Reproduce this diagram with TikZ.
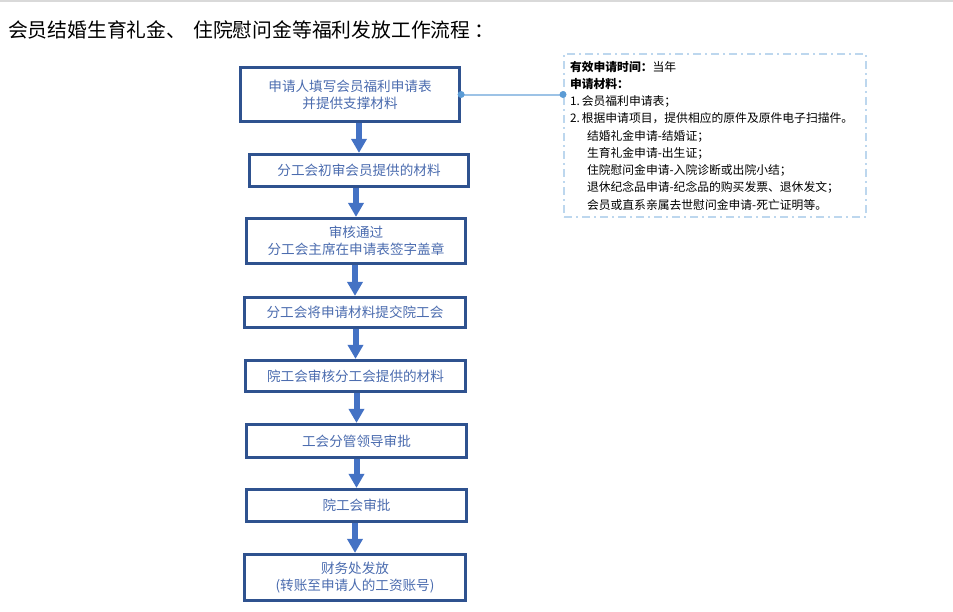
\documentclass[tikz,border=0pt]{standalone}
\usepackage{fontspec}
\setmainfont{Noto Sans CJK SC}
\usepackage{tikz}
\usetikzlibrary{arrows.meta,calc}
\definecolor{BoxBorder}{HTML}{2F528F}
\definecolor{BoxText}{HTML}{4A6BAE}
\definecolor{ArrowFill}{HTML}{4472C4}
\definecolor{NoteFrame}{HTML}{BDD7EE}
\definecolor{LinkLine}{HTML}{9DC3E6}
\definecolor{LinkDot}{HTML}{5B9BD5}
\definecolor{PageRule}{HTML}{D9D9D9}

\begin{document}
\begin{tikzpicture}[
  x=1pt,y=-1pt,
  line join=miter,
  flowbox/.style={draw=BoxBorder,line width=3.2pt,minimum width=219pt,
    inner sep=0pt,align=center,text=BoxText,
    font=\fontsize{13.6}{17}\selectfont},
  flowarrow/.style={draw=ArrowFill,line width=6pt,
    -{Triangle[width=15pt,length=14pt]}},
  notebox/.style={draw=NoteFrame,line width=2pt,
    dash pattern=on 8pt off 4pt on 2pt off 4pt,
    minimum width=302pt,minimum height=163pt,inner sep=0pt,
    text width=290pt,align=left,text=black,
    font=\fontsize{11.8}{17.25}\selectfont}
]
  \useasboundingbox (0,0) rectangle (953,611);
  \draw[PageRule,line width=1.5pt] (0,0.75)--(953,0.75);

  \node[anchor=west,inner sep=0pt,font=\fontsize{19.8}{23}\selectfont]
    (title) at (8,30)
    {会员结婚生育礼金、\hspace{7pt}住院慰问金等福利发放工作流程\hspace{4pt}：};

  \node[flowbox,minimum height=53.8pt] (applyform) at (350,94.5)
    {申请人填写会员福利申请表\\并提供支撑材料};
  \node[flowbox,minimum height=32pt] (preliminary) at (359,170.5)
    {分工会初审会员提供的材料};
  \node[flowbox,minimum height=45pt] (approved) at (356,241)
    {审核通过\\分工会主席在申请表签字盖章};
  \node[flowbox,minimum height=30pt,minimum width=221pt] (submit)
    at (355,312.5) {分工会将申请材料提交院工会};
  \node[flowbox,minimum height=31pt,minimum width=220pt] (review)
    at (355.5,376) {院工会审核分工会提供的材料};
  \node[flowbox,minimum height=33pt,minimum width=220pt] (leader)
    at (356.5,441) {工会分管领导审批};
  \node[flowbox,minimum height=32pt,minimum width=220pt] (unionok)
    at (356.5,505.5) {院工会审批};
  \node[flowbox,minimum height=46pt,minimum width=221pt] (payout)
    at (355,577.5) {财务处发放\\(转账至申请人的工资账号)};

  \draw[flowarrow] (applyform.south -| preliminary.north)--(preliminary.north);
  \draw[flowarrow] (preliminary.south -| approved.north)--(approved.north);
  \draw[flowarrow] (approved.south -| submit.north)--(submit.north);
  \draw[flowarrow] (submit.south -| review.north)--(review.north);
  \draw[flowarrow] (review.south -| leader.north)--(leader.north);
  \draw[flowarrow] (leader.south -| unionok.north)--(unionok.north);
  \draw[flowarrow] (unionok.south -| payout.north)--(payout.north);

  \node[notebox] (materials) at (715,135.5)
    {{\bfseries 有效申请时间：}当年\\
     {\bfseries 申请材料：}\\
     1.\hspace{2pt}会员福利申请表；\\
     2.\hspace{2pt}根据申请项目，提供相应的原件及原件电子扫描件。\\
     \hspace*{17pt}结婚礼金申请-结婚证；\\
     \hspace*{17pt}生育礼金申请-出生证；\\
     \hspace*{17pt}住院慰问金申请-入院诊断或出院小结；\\
     \hspace*{17pt}退休纪念品申请-纪念品的购买发票、退休发文；\\
     \hspace*{17pt}会员或直系亲属去世慰问金申请-死亡证明等。};

  \coordinate (linkend) at (applyform.east -| materials.west);
  \draw[LinkLine,line width=2pt] (applyform.east)--(linkend);
  \fill[LinkDot] (applyform.east) circle (3.5pt);
  \fill[LinkDot] (linkend) circle (3.5pt);
\end{tikzpicture}
\end{document}
